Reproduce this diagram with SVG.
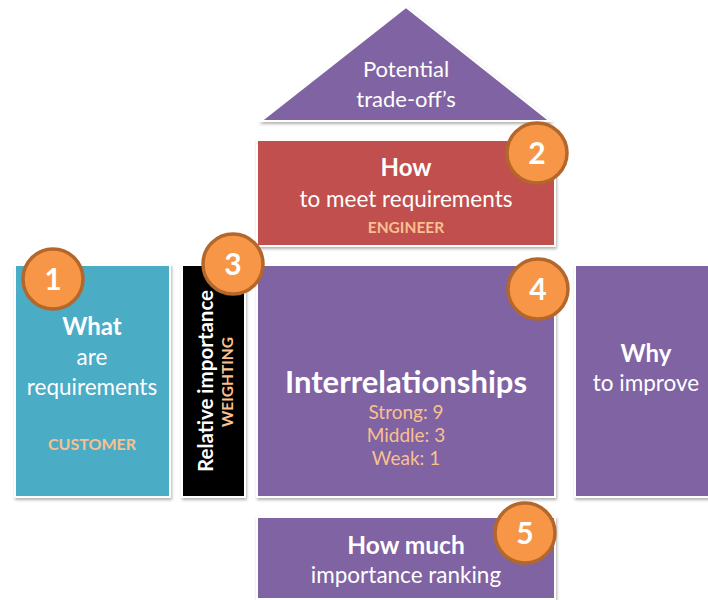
<svg xmlns="http://www.w3.org/2000/svg" width="708" height="600" viewBox="0 0 708 600">
<defs>
<filter id="sh" x="-10%" y="-10%" width="120%" height="120%">
<feDropShadow dx="1" dy="2" stdDeviation="1.5" flood-color="#000" flood-opacity="0.3"/>
</filter>
</defs>
<style>
text{font-family:Lato,"Open Sans","Liberation Sans",sans-serif;fill:#fff;text-anchor:middle}
.b{font-weight:bold}
.o{fill:#FAC090;font-weight:bold}
.w{fill:#FAC090}
.box{stroke:#fff;stroke-width:2;filter:url(#sh)}
.num{fill:#F79646;stroke:#B3672B;stroke-width:3.5}
.nt{font-weight:bold;font-size:30px}
</style>
<rect width="708" height="600" fill="#fff"/>
<g id="roof">
<polygon class="box" points="406,7 261,121 550,121" fill="#8064A2"/>
<text x="406" y="77" font-size="22">Potential</text>
<text x="406" y="107" font-size="22">trade-off’s</text>
</g>
<g id="how">
<rect class="box" x="257" y="140" width="298" height="106" fill="#C0504D"/>
<text class="b" x="406" y="176" font-size="24">How</text>
<text x="406" y="207" font-size="22.5">to meet requirements</text>
<text class="o" x="406" y="233" font-size="15.5">ENGINEER</text>
</g>
<g id="what">
<rect class="box" x="15" y="265" width="155" height="232" fill="#4BACC6"/>
<text class="b" x="92" y="335" font-size="24">What</text>
<text x="92" y="365" font-size="22.5">are</text>
<text x="92" y="395" font-size="22.5">requirements</text>
<text class="o" x="92" y="450" font-size="16">CUSTOMER</text>
</g>
<g id="weighting">
<rect class="box" x="182" y="265" width="63" height="232" fill="#000"/>
<text class="b" transform="translate(213,381) rotate(-90)" font-size="20.5">Relative importance</text>
<text class="o" transform="translate(233,382) rotate(-90)" font-size="15.5">WEIGHTING</text>
</g>
<g id="interrelationships">
<rect class="box" x="257" y="265" width="298" height="232" fill="#8064A2"/>
<text class="b" x="406" y="393" font-size="31">Interrelationships</text>
<text class="w" x="406" y="419" font-size="19">Strong: 9</text>
<text class="w" x="406" y="442" font-size="19">Middle: 3</text>
<text class="w" x="406" y="465" font-size="19">Weak: 1</text>
</g>
<g id="why">
<rect class="box" x="575" y="265" width="150" height="232" fill="#8064A2"/>
<text class="b" x="646" y="362" font-size="24">Why</text>
<text x="646" y="391" font-size="22.5">to improve</text>
</g>
<g id="howmuch">
<rect class="box" x="257" y="517" width="298" height="82" fill="#8064A2"/>
<text class="b" x="406" y="554" font-size="24.5">How much</text>
<text x="406" y="583" font-size="22.5">importance ranking</text>
</g>
<g id="badges">
<g id="n1"><circle class="num" cx="53" cy="279" r="30"/><text class="nt" x="53" y="290">1</text></g>
<g id="n2"><circle class="num" cx="537" cy="153" r="30"/><text class="nt" x="537" y="164">2</text></g>
<g id="n3"><circle class="num" cx="233" cy="264" r="30"/><text class="nt" x="233" y="275">3</text></g>
<g id="n4"><circle class="num" cx="538" cy="289" r="30"/><text class="nt" x="538" y="300">4</text></g>
<g id="n5"><circle class="num" cx="525" cy="533" r="30"/><text class="nt" x="525" y="544">5</text></g>
</g>
<g id="connectors"></g>
</svg>
